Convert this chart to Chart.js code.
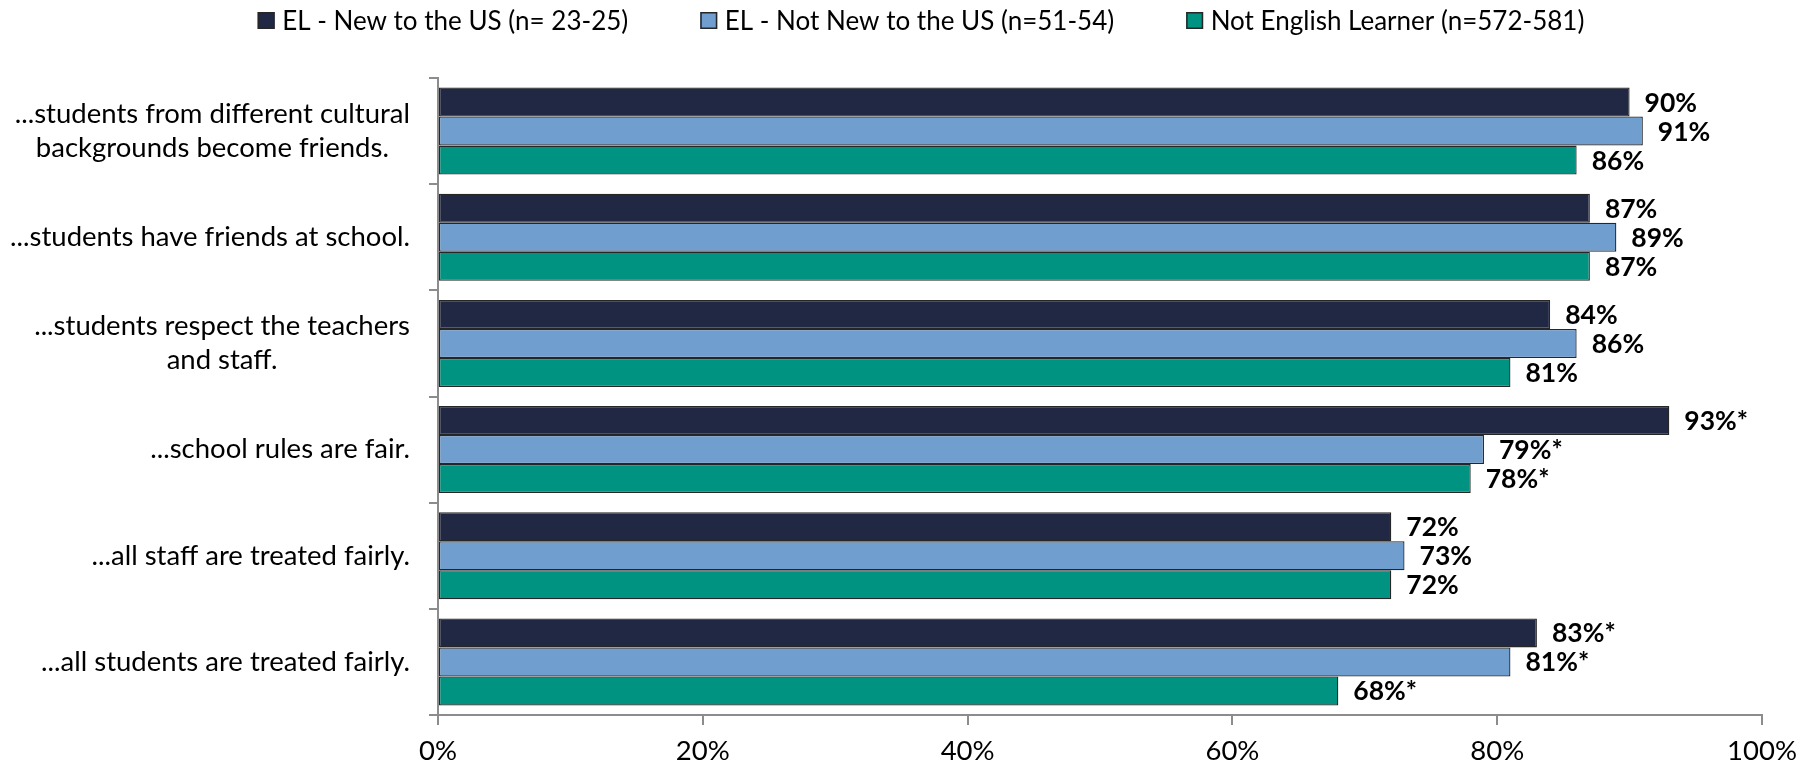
<!DOCTYPE html>
<html>
<head>
<meta charset="utf-8">
<script src="https://cdn.jsdelivr.net/npm/chart.js@4.4.1/dist/chart.umd.min.js"></script>
<style>
  html, body { margin: 0; padding: 0; background: #ffffff; }
  #wrap { width: 1816px; height: 765px; }
</style>
</head>
<body>
<div id="wrap"><canvas id="chart" width="1816" height="765"></canvas></div>
<script>
// Survey statements (multi-line labels are split into lines)
const categories = [
  ['...students from different cultural', 'backgrounds become friends.'],
  ['...students have friends at school.'],
  ['...students respect the teachers', 'and staff.'],
  ['...school rules are fair.'],
  ['...all staff are treated fairly.'],
  ['...all students are treated fairly.']
];

const seriesNames = [
  'EL - New to the US (n= 23-25)',
  'EL - Not New to the US (n=51-54)',
  'Not English Learner (n=572-581)'
];

// Percent agreeing, per group
const newToUS    = [90, 87, 84, 93, 72, 83];
const notNewToUS = [91, 89, 86, 79, 73, 81];
const notEL      = [86, 87, 81, 78, 72, 68];

// Statistically significant differences are flagged with an asterisk
const newToUSSig    = [false, false, false, true, false, true];
const notNewToUSSig = [false, false, false, true, false, true];
const notELSig      = [false, false, false, true, false, true];

const xTickValues = [0, 20, 40, 60, 80, 100];

const seriesColors = ['#212844', '#709ECF', '#009382'];
const barEdge = '#262626';
const axisGray = '#8c8c8c';
const FAMILY = 'Lato, "Noto Sans", sans-serif';

// Pick a type size so the given string spans the given width
function sizeForWidth(text, width, weight) {
  const ctx = document.createElement('canvas').getContext('2d');
  ctx.font = weight + ' 100px ' + FAMILY;
  return Math.round(2 * 100 * width / ctx.measureText(text).width) / 2;
}
const TEXT_SIZE = sizeForWidth('...students have friends at school.', 397, 'normal');
const LEGEND_SIZE = sizeForWidth('EL - New to the US (n= 23-25)', 346, 'normal');
const VALUE_SIZE = sizeForWidth('93%*', 64, 'bold');

const seriesValues = [newToUS, notNewToUS, notEL];
const seriesSig = [newToUSSig, notNewToUSSig, notELSig];

// Category labels: each block right-aligned, its lines centred on one another
const categoryLabels = {
  id: 'categoryLabels',
  afterDraw(chart) {
    const { ctx, scales: { y }, chartArea } = chart;
    const right = chartArea.left - 28;
    const lineH = TEXT_SIZE * 1.23;
    ctx.save();
    ctx.font = 'normal ' + TEXT_SIZE + 'px ' + FAMILY;
    ctx.fillStyle = '#000000';
    ctx.textAlign = 'center';
    ctx.textBaseline = 'middle';
    categories.forEach((lines, i) => {
      const cy = y.getPixelForValue(i);
      const blockW = Math.max(...lines.map(l => ctx.measureText(l).width));
      const cx = right - blockW / 2;
      lines.forEach((line, k) => {
        ctx.fillText(line, cx, cy + (k - (lines.length - 1) / 2) * lineH);
      });
    });
    ctx.restore();
  }
};

// Value labels to the right of each bar
const valueLabels = {
  id: 'valueLabels',
  afterDatasetsDraw(chart) {
    const { ctx } = chart;
    ctx.save();
    ctx.font = 'bold ' + VALUE_SIZE + 'px ' + FAMILY;
    ctx.fillStyle = '#000000';
    ctx.textAlign = 'left';
    ctx.textBaseline = 'middle';
    chart.data.datasets.forEach((ds, di) => {
      const meta = chart.getDatasetMeta(di);
      meta.data.forEach((bar, i) => {
        const txt = ds.data[i] + '%' + (seriesSig[di][i] ? '*' : '');
        ctx.fillText(txt, bar.x + 15, bar.y + 1);
      });
    });
    ctx.restore();
  }
};

// Legend row across the top
const legendRow = {
  id: 'legendRow',
  afterDraw(chart) {
    const { ctx } = chart;
    const box = 17, gapText = 7.5, gapItem = 72, cy = 20.5, centerX = 921;
    ctx.save();
    ctx.font = 'normal ' + LEGEND_SIZE + 'px ' + FAMILY;
    const items = chart.data.datasets.map(ds => ({
      label: ds.label, color: ds.backgroundColor, w: ctx.measureText(ds.label).width
    }));
    const total = items.reduce((s, it) => s + box + gapText + it.w, 0) + gapItem * (items.length - 1);
    let x = centerX - total / 2;
    items.forEach(it => {
      ctx.fillStyle = it.color;
      ctx.fillRect(x, cy - box / 2, box, box);
      ctx.strokeStyle = barEdge;
      ctx.lineWidth = 1.5;
      ctx.strokeRect(x + 0.75, cy - box / 2 + 0.75, box - 1.5, box - 1.5);
      ctx.fillStyle = '#000000';
      ctx.textAlign = 'left';
      ctx.textBaseline = 'middle';
      ctx.fillText(it.label, x + box + gapText, cy + 1);
      x += box + gapText + it.w + gapItem;
    });
    ctx.restore();
  }
};

new Chart(document.getElementById('chart'), {
  type: 'bar',
  data: {
    labels: categories.map(l => l.join(' ')),
    datasets: seriesNames.map((name, i) => ({
      label: name,
      data: seriesValues[i],
      backgroundColor: seriesColors[i],
      borderColor: barEdge,
      borderWidth: 1.3,
      borderSkipped: false,
      categoryPercentage: 0.82,
      barPercentage: 1.0
    }))
  },
  options: {
    indexAxis: 'y',
    responsive: false,
    animation: false,
    devicePixelRatio: 1,
    layout: { padding: { top: 78, right: 54, left: 0, bottom: 0 } },
    plugins: {
      legend: { display: false },
      tooltip: { enabled: false }
    },
    scales: {
      x: {
        type: 'linear',
        position: 'bottom',
        min: 0,
        max: 100,
        afterBuildTicks(scale) {
          scale.ticks = xTickValues.map(v => ({ value: v }));
        },
        afterFit(scale) {
          scale.height = 50;
          scale.paddingLeft = 0;
          scale.paddingRight = 0;
        },
        ticks: {
          callback: v => v + '%',
          color: '#000000',
          padding: 10,
          maxRotation: 0,
          font: { family: FAMILY, size: TEXT_SIZE }
        },
        grid: {
          drawOnChartArea: false,
          drawTicks: true,
          tickLength: 10,
          color: axisGray,
          lineWidth: 2
        },
        border: { display: true, color: axisGray, width: 2 }
      },
      y: {
        type: 'category',
        position: 'left',
        afterFit(scale) {
          scale.width = 438;
          scale.paddingTop = 0;
          scale.paddingBottom = 0;
        },
        ticks: { display: false },
        grid: {
          offset: true,
          drawOnChartArea: false,
          drawTicks: true,
          tickLength: 9,
          color: axisGray,
          lineWidth: 2
        },
        border: { display: true, color: axisGray, width: 2 }
      }
    }
  },
  plugins: [categoryLabels, valueLabels, legendRow]
});
</script>
</body>
</html>
